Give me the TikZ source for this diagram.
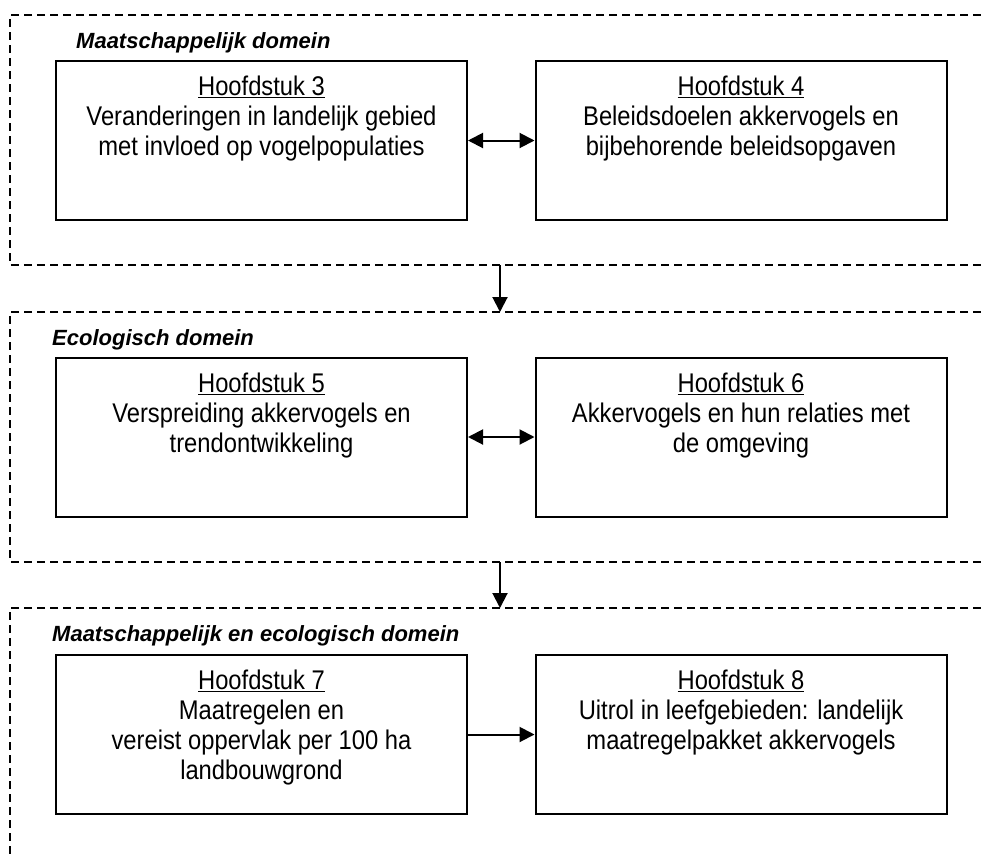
\documentclass[tikz,border=0pt]{standalone}
\usepackage{fontspec}
\newfontfamily\chapfont{Liberation Sans}[FakeStretch=0.88]
\newfontfamily\domfont{Liberation Sans}
\usetikzlibrary{arrows.meta}

\begin{document}
\begin{tikzpicture}[x=1pt,y=-1pt,
  chapbox/.style={draw,line width=2pt,minimum width=411pt,minimum height=159pt,inner sep=0pt},
  chaptext/.style={anchor=north,align=center,inner sep=0pt,font=\chapfont\fontsize{27}{30}\selectfont},
  domlabel/.style={anchor=base west,inner sep=0pt,font=\domfont\bfseries\itshape\fontsize{22}{26}\selectfont},
  domframe/.style={line width=1.5pt,dash pattern=on 8pt off 5pt},
  link/.style={line width=2pt,-{Triangle[length=15pt,width=15pt]}},
  twoway/.style={line width=2pt,{Triangle[length=15pt,width=15pt]}-{Triangle[length=15pt,width=15pt]}}]
  \useasboundingbox (0,0) rectangle (981,854);

  %dashed domain frames
  \draw[domframe] (981,15) -- (10,15) -- (10,265) -- (981,265);
  \draw[domframe] (981,312) -- (10,312) -- (10,562) -- (981,562);
  \draw[domframe] (981,608) -- (10,608) -- (10,854);
  \node[domlabel] (d1) at (76,48) {Maatschappelijk domein};
  \node[domlabel] (d2) at (52,345) {Ecologisch domein};
  \node[domlabel] (d3) at (52,641) {Maatschappelijk en ecologisch domein};

  %frame to frame
  \coordinate (f1s) at (500,265);
  \coordinate (f2n) at (500,312);
  \coordinate (f2s) at (500,562);
  \coordinate (f3n) at (500,608);
  \draw[link] (f1s) -- (f2n);
  \draw[link] (f2s) -- (f3n);

  %chapters 3 and 4
  \node[chapbox] (h3) at (261.5,140.5) {};
  \node[chapbox] (h4) at (741,140.5) {};
  \node[chaptext] (t3) at ([yshift=-16pt]h3.north) {\underline{Hoofdstuk 3}\\Veranderingen in landelijk gebied\\met invloed op vogelpopulaties};
  \node[chaptext] (t4) at ([yshift=-16pt]h4.north) {\underline{Hoofdstuk 4}\\Beleidsdoelen akkervogels en\\bijbehorende beleidsopgaven};
  \draw[twoway] (h3) -- (h4);

  %chapters 5 and 6
  \node[chapbox] (h5) at (261.5,437) {};
  \node[chapbox] (h6) at (741,437) {};
  \node[chaptext] (t5) at ([yshift=-16pt]h5.north) {\underline{Hoofdstuk 5}\\Verspreiding akkervogels en\\trendontwikkeling};
  \node[chaptext] (t6) at ([yshift=-16pt]h6.north) {\underline{Hoofdstuk 6}\\Akkervogels en hun relaties met\\de omgeving};
  \draw[twoway] (h5) -- (h6);

  %chapters 7 and 8
  \node[chapbox] (h7) at (261.5,734.5) {};
  \node[chapbox] (h8) at (741,734.5) {};
  \node[chaptext] (t7) at ([yshift=-16pt]h7.north) {\underline{Hoofdstuk 7}\\Maatregelen en\\vereist oppervlak per 100 ha\\landbouwgrond};
  \node[chaptext] (t8) at ([yshift=-16pt]h8.north) {\underline{Hoofdstuk 8}\\Uitrol in leefgebieden: landelijk\\maatregelpakket akkervogels};
  \draw[link] (h7) -- (h8);
\end{tikzpicture}
\end{document}
